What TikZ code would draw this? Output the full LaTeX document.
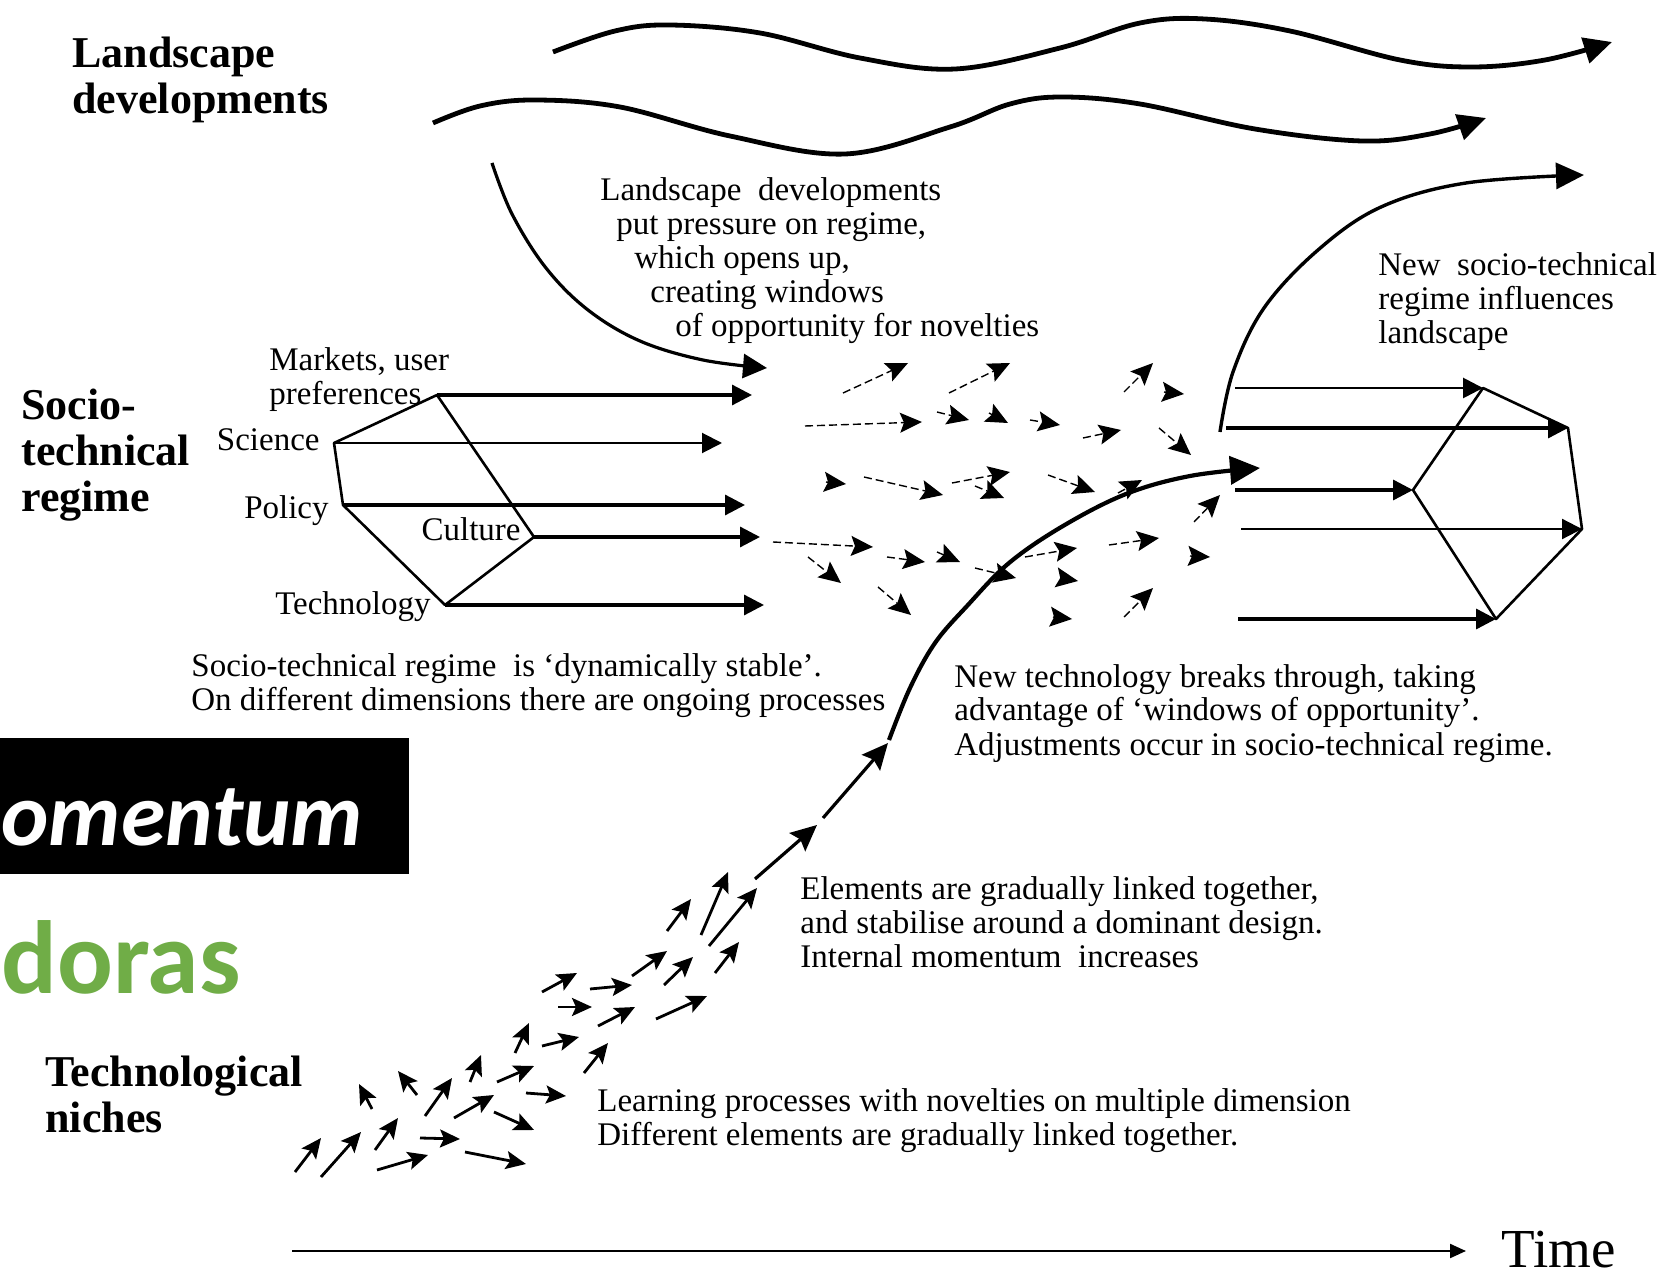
\documentclass[tikz,border=0pt]{standalone}
\usepackage{fontspec}
\setmainfont{Liberation Serif}
\newfontfamily\calfont{Carlito}
\usetikzlibrary{arrows.meta}
\definecolor{dgreen}{HTML}{70AD47}
\begin{document}
\begin{tikzpicture}[x=0.5pt,y=-0.5pt,
  txt/.style={anchor=base west, inner sep=0pt, font=\fontsize{16.5}{17}\selectfont},
  lbl/.style={anchor=base west, inner sep=0pt, font=\fontsize{22}{23}\selectfont\bfseries},
  wave/.style={line width=2.4pt, -{Triangle[length=14pt,width=13pt]}},
  lcurve/.style={line width=1.6pt, -{Triangle[length=12pt,width=12pt]}},
  regarr/.style={line width=1.6pt, -{Triangle[length=10pt,width=10pt]}},
  pedge/.style={line width=1.3pt, line join=round},
  smallarr/.style={line width=0.7pt, dash pattern=on 4pt off 2pt, -{Stealth[length=11pt,width=10pt,inset=2pt]}},
  nichearr/.style={line width=1.4pt, -{Stealth[length=10pt,width=9pt,inset=2pt]}},
  bigarr/.style={line width=1.6pt, -{Stealth[length=13pt,width=12pt,inset=2pt]}},
]
\useasboundingbox (0,0) rectangle (1666,1283);
\fill[white] (0,0) rectangle (1666,1283);

% ---------- labels ----------
\node[lbl] (land) at (72,68) {\begin{tabular}[t]{@{}l@{}}Landscape\\[-0.1pt]developments\end{tabular}};
\node[lbl] (regl) at (21,420) {\begin{tabular}[t]{@{}l@{}}Socio-\\technical\\regime\end{tabular}};
\node[lbl] (nichl) at (45,1086) {\begin{tabular}[t]{@{}l@{}}Technological\\niches\end{tabular}};

% ---------- landscape waves ----------
\draw[wave] plot[smooth, tension=0.6] coordinates {(553,52) (615,31) (670,25) (760,33) (860,58) (955,69) (1060,48) (1140,23) (1205,19) (1290,31) (1400,60) (1472,67) (1545,60) (1612,42)};
\draw[wave] plot[smooth, tension=0.6] coordinates {(433,123) (480,106) (535,100) (620,107) (730,136) (845,154) (950,127) (1010,104) (1062,97) (1140,104) (1255,129) (1362,141) (1430,134) (1486,118)};

% landscape pressure arrow
\coordinate (L0) at (492,163);
\coordinate (L1) at (767,368);
\draw[lcurve] plot[smooth, tension=0.6] coordinates {(L0) (512,214) (546,268) (588,310) (640,341) (703,360) (L1)};
\node[txt] (landtxt) at (600,201) {\begin{tabular}[t]{@{}l@{}}Landscape\ \ developments\\\hspace*{8pt}put pressure on regime,\\\hspace*{17pt}which opens up,\\\hspace*{25pt}creating windows\\\hspace*{37.5pt}of opportunity for novelties\end{tabular}};

% ---------- socio-technical regime (left) ----------
\coordinate (M) at (437,395);
\coordinate (S) at (334,443);
\coordinate (P) at (343,505);
\coordinate (C) at (534,537);
\coordinate (T) at (445,605);
\coordinate (Me) at (752,395);
\coordinate (Se) at (722,443);
\coordinate (Pe) at (745,505);
\coordinate (Ce) at (760,537);
\coordinate (Te) at (764,605);
\draw[pedge] (M) -- (S) -- (P) -- (T) -- (C) -- cycle;
\draw[regarr] (M) -- (Me);
\draw[regarr, line width=1pt] (S) -- (Se);
\draw[regarr] (P) -- (Pe);
\draw[regarr] (C) -- (Ce);
\draw[regarr] (T) -- (Te);
\node[txt] (mkt) at (269,371) {\begin{tabular}[t]{@{}l@{}}Markets, user\\preferences\end{tabular}};
\node[txt, anchor=base east] (sci) at (320,451) {Science};
\node[txt, anchor=base east] (pol) at (329,519) {Policy};
\node[txt, anchor=base east] (cul) at (521,541) {Culture};
\node[txt, anchor=base east] (tech) at (431,614) {Technology};
\node[txt] (stable) at (191,676) {\begin{tabular}[t]{@{}l@{}}Socio-technical regime\ \ is `dynamically stable'.\\On different dimensions there are ongoing processes\end{tabular}};

% ---------- small dashed arrows (windows of opportunity) ----------
\foreach \ax/\ay/\bx/\by in {
  843/393/908/363, 949/393/1010/363, 1124/392/1153/363, 1164/392/1184/394,
  805/426/922/422, 937/412/969/420, 989/413/1008/423, 1030/420/1060/425,
  1083/438/1121/430, 1159/428/1191/455,
  826/482/846/484, 864/477/943/495, 952/483/1010/472, 975/486/1004/498,
  1048/475/1095/492, 1118/493/1142/480,
  773/542/873/547, 808/557/841/583, 887/557/925/562, 937/552/960/562,
  975/568/1016/578, 1025/557/1077/548, 1109/545/1159/538, 1190/556/1210/557,
  1060/578/1078/581, 878/587/911/615, 1053/617/1072/619, 1124/617/1153/588,
  1194/522/1220/495}
  \draw[smallarr] (\ax,\ay) -- (\bx,\by);

% ---------- new regime (right) ----------
\coordinate (A) at (1483,388);
\coordinate (B) at (1568,428);
\coordinate (Cc) at (1413,490);
\coordinate (D) at (1582,529);
\coordinate (E) at (1496,619);
\coordinate (A0) at (1235,388);
\coordinate (B0) at (1226,428);
\coordinate (C0) at (1235,490);
\coordinate (D0) at (1241,529);
\coordinate (E0) at (1238,619);
\draw[pedge] (A) -- (B) -- (D) -- (E) -- (Cc) -- cycle;
\draw[regarr, line width=1.4pt] (A0) -- (A);
\draw[regarr, line width=1.7pt] (B0) -- (B);
\draw[regarr, line width=1.7pt] (C0) -- (Cc);
\draw[regarr, line width=1.1pt] (D0) -- (D);
\draw[regarr, line width=1.7pt] (E0) -- (E);

% new regime influences landscape
\coordinate (R0) at (1220,432);
\coordinate (R1) at (1584,175);
\draw[wave, line width=1.7pt] plot[smooth, tension=0.6] coordinates {(R0) (1233,372) (1264,308) (1318,250) (1381,207) (1466,183) (R1)};
\node[txt] (newreg) at (1378,276) {\begin{tabular}[t]{@{}l@{}}New\ \ socio-technical\\regime influences\\landscape\end{tabular}};

% ---------- technological niches ----------
\foreach \ax/\ay/\bx/\by in {
  295/1172/321/1138, 321/1177/361/1132, 375/1150/398/1118, 377/1170/428/1155,
  420/1138/460/1139, 465/1152/526/1164, 425/1116/452/1078, 372/1109/359/1084,
  417/1095/398/1071, 454/1118/494/1095, 494/1112/534/1130, 470/1082/481/1055,
  497/1082/534/1066, 526/1093/566/1096, 515/1053/529/1023, 542/1046/579/1037,
  584/1073/608/1043, 542/992/577/973, 558/1007/592/1007, 590/989/632/985,
  598/1026/635/1007, 632/976/667/951, 664/985/693/957, 656/1019/707/996,
  667/931/691/899, 701/935/728/872, 709/946/757/888, 715/973/739/942}
  \draw[nichearr] (\ax,\ay) -- (\bx,\by);
\coordinate (N0) at (755,879);
\coordinate (N1) at (817,825);
\coordinate (N2) at (823,818);
\coordinate (N3) at (888,743);
\draw[bigarr] (N0) -- (N1);
\draw[bigarr] (N2) -- (N3);
\coordinate (K0) at (889,740);
\coordinate (K1) at (1260,468);
\draw[wave, line width=2.1pt, -{Triangle[length=15pt,width=14pt]}] plot[smooth, tension=0.6] coordinates {(K0) (910,688) (935,643) (967,606) (1009,563) (1063,526) (1126,494) (1190,476) (K1)};

\node[txt] (break) at (954,687) {\begin{tabular}[t]{@{}l@{}}New technology breaks through, taking\\advantage of `windows of opportunity'.\\Adjustments occur in socio-technical regime.\end{tabular}};
\node[txt] (elem) at (800,899) {\begin{tabular}[t]{@{}l@{}}Elements are gradually linked together,\\and stabilise around a dominant design.\\Internal momentum\ \ increases\end{tabular}};
\node[txt] (learn) at (597,1111) {\begin{tabular}[t]{@{}l@{}}Learning processes with novelties on multiple dimension\\Different elements are gradually linked together.\end{tabular}};

% ---------- time axis ----------
\coordinate (T0) at (292,1251);
\coordinate (T1) at (1466,1251);
\draw[line width=1.1pt, -{Triangle[length=8pt,width=7pt]}] (T0) -- (T1);
\node[anchor=base west, inner sep=0pt, font=\fontsize{27.5}{30}\selectfont] (time) at (1501,1267) {Time};

% ---------- overlay slide fragments ----------
\fill[black] (0,738) rectangle (409,874);
\node[anchor=base west, inner sep=0pt, text=white, font=\calfont\bfseries\itshape\fontsize{45}{50}\selectfont] (mom) at (1,845) {omentum};
\node[anchor=base west, inner sep=0pt, text=dgreen, font=\calfont\bfseries\fontsize{52}{60}\selectfont] (dor) at (1,993) {doras};
\end{tikzpicture}
\end{document}
